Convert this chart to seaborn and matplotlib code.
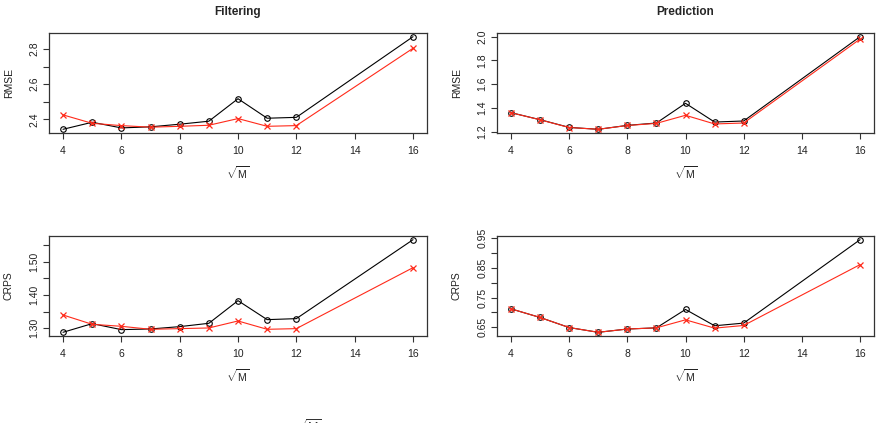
import numpy as np
import matplotlib
matplotlib.use("Agg")
import matplotlib.pyplot as plt
import seaborn as sns

# data
sqrt_m = [4, 5, 6, 7, 8, 9, 10, 11, 12, 16]

filt_rmse_black = [2.343, 2.383, 2.351, 2.357, 2.372, 2.389, 2.517, 2.406, 2.411, 2.870]
filt_rmse_red = [2.425, 2.377, 2.364, 2.355, 2.360, 2.366, 2.404, 2.360, 2.364, 2.804]

pred_rmse_black = [1.360, 1.301, 1.236, 1.220, 1.253, 1.273, 1.439, 1.281, 1.290, 2.000]
pred_rmse_red = [1.360, 1.300, 1.235, 1.220, 1.252, 1.270, 1.338, 1.265, 1.273, 1.980]

filt_crps_black = [1.288, 1.314, 1.296, 1.298, 1.305, 1.315, 1.383, 1.326, 1.329, 1.566]
filt_crps_red = [1.340, 1.312, 1.306, 1.297, 1.299, 1.301, 1.322, 1.297, 1.299, 1.482]

pred_crps_black = [0.712, 0.683, 0.649, 0.633, 0.644, 0.648, 0.710, 0.655, 0.664, 0.945]
pred_crps_red = [0.712, 0.683, 0.649, 0.633, 0.644, 0.648, 0.675, 0.647, 0.656, 0.861]

x_ticks = [4, 6, 8, 10, 12, 14, 16]

sns.set_style("ticks")
plt.rcParams['font.family'] = ['Liberation Sans', 'DejaVu Sans']
plt.rcParams['mathtext.fontset'] = 'custom'
plt.rcParams['mathtext.rm'] = 'Liberation Sans'

fig = plt.figure(figsize=(8.81, 4.23), dpi=100)
W, H = 881, 423

red = "#ff2a1a"


def make_ax(left, top, right, bottom):
    return fig.add_axes([left / W, (H - bottom) / H, (right - left) / W, (bottom - top) / H])


panels = [
    (make_ax(49, 33, 427, 133), filt_rmse_black, filt_rmse_red, "RMSE",
     [2.4, 2.5, 2.6, 2.7, 2.8], ["2.4", "", "2.6", "", "2.8"], "Filtering"),
    (make_ax(497, 33, 874, 133), pred_rmse_black, pred_rmse_red, "RMSE",
     [1.2, 1.4, 1.6, 1.8, 2.0], ["1.2", "1.4", "1.6", "1.8", "2.0"], "Prediction"),
    (make_ax(49, 236, 427, 336), filt_crps_black, filt_crps_red, "CRPS",
     [1.30, 1.35, 1.40, 1.45, 1.50, 1.55], ["1.30", "", "1.40", "", "1.50", ""], None),
    (make_ax(497, 236, 874, 336), pred_crps_black, pred_crps_red, "CRPS",
     [0.65, 0.70, 0.75, 0.80, 0.85, 0.90, 0.95], ["0.65", "", "0.75", "", "0.85", "", "0.95"], None),
]

for ax, black_vals, red_vals, ylab, yt, ytl, title in panels:
    sns.lineplot(x=sqrt_m, y=black_vals, ax=ax, color="black", lw=0.8,
                 marker="o", markersize=4, markerfacecolor="none",
                 markeredgecolor="black", markeredgewidth=0.8)
    sns.lineplot(x=sqrt_m, y=red_vals, ax=ax, color=red, lw=0.8,
                 marker="x", markersize=4, markeredgecolor=red, markeredgewidth=0.9)
    allv = black_vals + red_vals
    lo, hi = min(allv), max(allv)
    pad = 0.04 * (hi - lo)
    ax.set_ylim(lo - pad, hi + pad)
    ax.set_xlim(4 - 0.48, 16 + 0.48)
    ax.set_xticks(x_ticks)
    ax.set_xticklabels([str(t) for t in x_ticks])
    ax.set_yticks(yt)
    ax.set_yticklabels(ytl, rotation=90, va="center")
    ax.tick_params(axis="both", direction="out", length=4, width=0.8,
                   color="#333333", labelsize=7.5, labelcolor="#222222", pad=3)
    ax.tick_params(axis="x", pad=5)
    for s in ax.spines.values():
        s.set_visible(True)
        s.set_color("#333333")
        s.set_linewidth(0.9)
    ax.set_xlabel(r"$\sqrt{\mathrm{M}}$", fontsize=7.5, color="#222222")
    ax.xaxis.set_label_coords(0.5, -0.31)
    ax.set_ylabel(ylab, fontsize=7.5, color="#222222")
    ax.yaxis.set_label_coords(-0.093, 0.5)
    if title:
        ax.set_title(title, fontsize=8.5, fontweight="bold", pad=13)

# top of a clipped caption at the very bottom
fig.text(308 / W, 4.5 / H, r"$\sqrt{\mathrm{M}}$", fontsize=9, ha="center", va="top", color="#333333")

fig.savefig("out.png", dpi=100)
